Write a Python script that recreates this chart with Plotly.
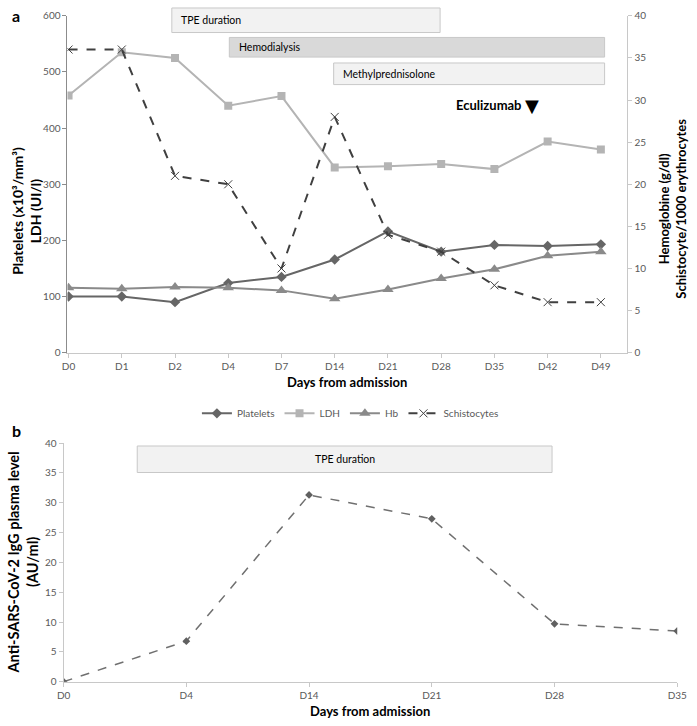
import plotly.graph_objects as go

# ---------------- data ----------------
days_a = ["D0", "D1", "D2", "D4", "D7", "D14", "D21", "D28", "D35", "D42", "D49"]
platelets = [100, 100, 90, 124, 135, 166, 216, 180, 192, 190, 193]
ldh = [458, 535, 525, 440, 457, 330, 332, 336, 327, 376, 362]
hb = [7.7, 7.6, 7.8, 7.7, 7.4, 6.4, 7.5, 8.8, 9.9, 11.5, 12.0]
schisto = [36, 36, 21, 20, 10, 28, 14, 12, 8, 6, 6]

days_b = ["D0", "D4", "D14", "D21", "D28", "D35"]
igg = [0, 6.8, 31.3, 27.3, 9.7, 8.5]

W, H = 697, 726
FONT = "Lato"
TICKC = "#595959"

xa = list(range(len(days_a)))
xb = list(range(len(days_b)))

def px(x):
    return x / W

def py(y):
    return 1 - y / H

fig = go.Figure()

fig.add_trace(go.Scatter(x=xa, y=platelets, name="Platelets", mode="lines+markers",
                         line=dict(color="#666666", width=2),
                         marker=dict(symbol="diamond", size=8, color="#666666"),
                         xaxis="x", yaxis="y"))
fig.add_trace(go.Scatter(x=xa, y=ldh, name="LDH", mode="lines+markers",
                         line=dict(color="#b4b4b4", width=2),
                         marker=dict(symbol="square", size=8, color="#b4b4b4"),
                         xaxis="x", yaxis="y"))
fig.add_trace(go.Scatter(x=xa, y=hb, name="Hb", mode="lines+markers",
                         line=dict(color="#8a8a8a", width=2),
                         marker=dict(symbol="triangle-up", size=10, color="#8a8a8a"),
                         xaxis="x", yaxis="y2"))
fig.add_trace(go.Scatter(x=xa, y=schisto, name="Schistocytes", mode="lines+markers",
                         line=dict(color="#404040", width=2, dash="dash"),
                         marker=dict(symbol="x-thin-open", size=8, color="#404040",
                                     line=dict(color="#404040", width=1)),
                         xaxis="x", yaxis="y2"))
fig.add_trace(go.Scatter(x=xb, y=igg, name="IgG", mode="lines+markers",
                         line=dict(color="#707070", width=1.5, dash="dash"),
                         marker=dict(symbol="diamond", size=6, color="#606060"),
                         xaxis="x2", yaxis="y3", showlegend=False))

axis_common = dict(showgrid=False, zeroline=False, ticks="outside", ticklen=4,
                   tickfont=dict(family=FONT, size=10, color=TICKC))

fig.update_layout(
    width=W, height=H,
    margin=dict(l=0, r=0, t=0, b=0),
    paper_bgcolor="white", plot_bgcolor="white",
    font=dict(family=FONT, color="#000000"),
    xaxis=dict(domain=[px(62), px(636)], range=[-0.02, 10.5],
               tickvals=xa, ticktext=days_a, showline=True, linecolor="#c8c8c8",
               tickcolor="#c8c8c8", anchor="y", **axis_common),
    yaxis=dict(domain=[py(352), py(9)], range=[0, 600], dtick=100,
               showline=True, linecolor="#8c8c8c", tickcolor="#8c8c8c",
               anchor="x", **axis_common),
    yaxis2=dict(domain=[py(352), py(9)], range=[0, 40], dtick=5,
                overlaying="y", side="right", anchor="x",
                showline=True, linecolor="#c8c8c8", tickcolor="#c8c8c8",
                **axis_common),
    xaxis2=dict(domain=[px(58), px(687)], range=[0, 5],
                tickvals=xb, ticktext=days_b, showline=True, linecolor="#c8c8c8",
                tickcolor="#c8c8c8", anchor="y3", **axis_common),
    yaxis3=dict(domain=[py(687), py(444)], range=[0, 40], dtick=5,
                showline=True, linecolor="#c8c8c8", tickcolor="#c8c8c8",
                anchor="x2", **axis_common),
    legend=dict(orientation="h", x=px(352), xanchor="center", y=py(399), yanchor="top",
                font=dict(family=FONT, size=10, color=TICKC), itemwidth=30,
                bgcolor="rgba(0,0,0,0)"),
    showlegend=True,
)

# ---------------- treatment boxes ----------------
shapes = []
annots = []

def box(xref, x0, x1, ytop, ybot, fill, text, align_left=True, tx=None):
    shapes.append(dict(type="rect", xref=xref, yref="paper", x0=x0, x1=x1,
                       y0=py(ybot), y1=py(ytop), fillcolor=fill,
                       line=dict(color="#c8c8c8", width=1), layer="above"))
    if align_left:
        annots.append(dict(xref=xref, yref="paper", x=tx, y=py((ytop + ybot) / 2),
                           xanchor="left", yanchor="middle", showarrow=False, text=text,
                           font=dict(family=FONT, size=10.5, color="#000000")))
    else:
        annots.append(dict(xref=xref, yref="paper", x=(x0 + x1) / 2, y=py((ytop + ybot) / 2),
                           xanchor="center", yanchor="middle", showarrow=False, text=text,
                           font=dict(family=FONT, size=10.5, color="#000000")))

box("x", 1.94, 6.98, 1, 26, "#f2f2f2", "TPE duration", tx=2.08)
box("x", 3.02, 10.07, 31, 51, "#d9d9d9", "Hemodialysis", tx=3.16)
box("x", 4.98, 10.07, 57, 79, "#f2f2f2", "Methylprednisolone", tx=5.12)
box("x2", 0.6, 3.98, 447, 474, "#f2f2f2", "TPE duration", align_left=False)

annots.append(dict(xref="x", yref="paper", x=8.56, y=py(100), xanchor="right", yanchor="middle",
                   showarrow=False, text="<b>Eculizumab</b>",
                   font=dict(family=FONT, size=13, color="#000000")))
annots.append(dict(xref="x", yref="paper", x=8.7, y=py(100), xanchor="center", yanchor="middle",
                   showarrow=False, text="▼",
                   font=dict(family="DejaVu Sans", size=18, color="#000000")))

# axis titles and panel letters
annots += [
    dict(xref="paper", yref="paper", x=px(20), y=py(208), text="<b>Platelets (x10³/mm³)<br>LDH (UI/l)</b>",
         textangle=-90, showarrow=False, xanchor="center", yanchor="middle",
         font=dict(family=FONT, size=14, color="#000000")),
    dict(xref="paper", yref="paper", x=px(682), y=py(205),
         text="<b>Hemoglobine (g/dl)<br>Schistocyte/1000 erythrocytes</b>",
         textangle=-90, showarrow=False, xanchor="center", yanchor="middle",
         font=dict(family=FONT, size=13, color="#000000")),
    dict(xref="paper", yref="paper", x=px(349), y=py(382), text="<b>Days from admission</b>",
         showarrow=False, xanchor="center", yanchor="middle",
         font=dict(family=FONT, size=13, color="#000000")),
    dict(xref="paper", yref="paper", x=px(16), y=py(566),
         text="<b>Anti-SARS-CoV-2 IgG plasma level<br>(AU/ml)</b>",
         textangle=-90, showarrow=False, xanchor="center", yanchor="middle",
         font=dict(family=FONT, size=14.5, color="#000000")),
    dict(xref="paper", yref="paper", x=px(372), y=py(717), text="<b>Days from admission</b>",
         showarrow=False, xanchor="center", yanchor="middle",
         font=dict(family=FONT, size=13, color="#000000")),
    dict(xref="paper", yref="paper", x=px(3), y=py(9), text="<b>a</b>",
         showarrow=False, xanchor="left", yanchor="middle",
         font=dict(family=FONT, size=16, color="#000000")),
    dict(xref="paper", yref="paper", x=px(3), y=py(431), text="<b>b</b>",
         showarrow=False, xanchor="left", yanchor="middle",
         font=dict(family=FONT, size=16, color="#000000")),
]

fig.update_layout(shapes=shapes, annotations=annots)

fig.write_html("out.html", config={"displayModeBar": False},
               post_script="document.body.style.margin='0';")
